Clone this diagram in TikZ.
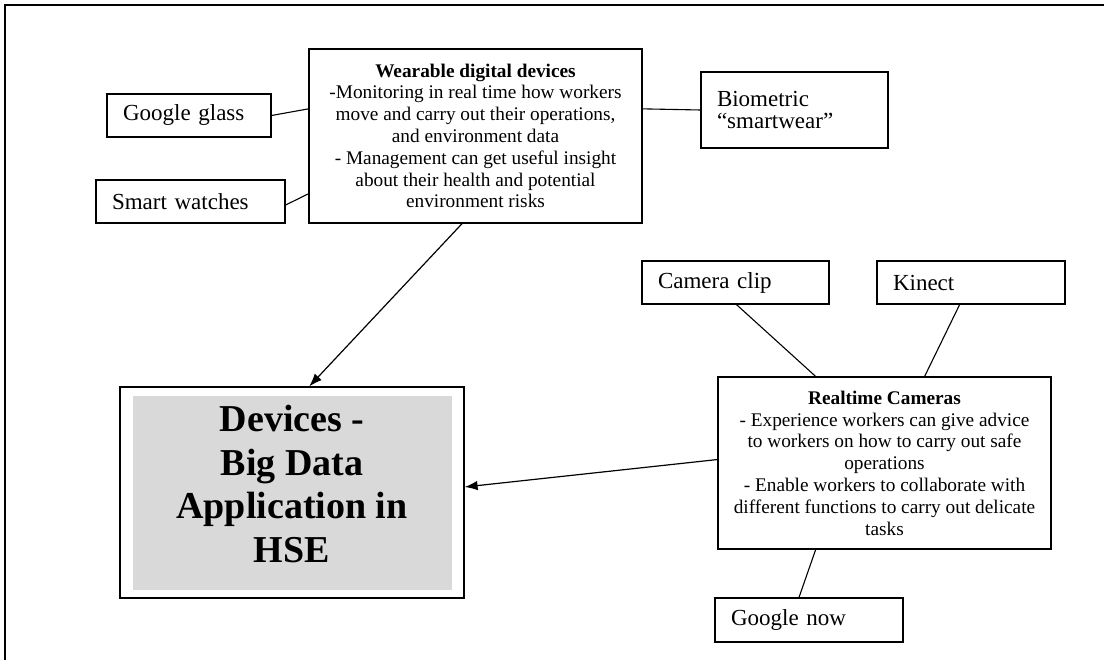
\documentclass[tikz,border=0pt]{standalone}
\usepackage{fontspec}
\setmainfont{Liberation Serif}
\usetikzlibrary{arrows.meta,calc}
\begin{document}
\begin{tikzpicture}[x=1pt,y=-1pt,
  box/.style={draw, line width=1.1pt, inner sep=0pt, align=center,
    font=\fontsize{19.3}{21.8}\selectfont},
  sbox/.style={draw, line width=1.1pt, inner xsep=16pt, inner ysep=0pt,
    align=left, font=\fontsize{23}{22.5}\selectfont},
  conn/.style={line width=1.1pt},
  arr/.style={line width=1.2pt, -{Latex[length=13pt,width=9.5pt]}}]
\useasboundingbox (0,0) rectangle (1104,660);
\definecolor{bigfill}{HTML}{D9D9D9}
% outer frame (only top and left visible)
\draw[line width=1.5pt] (5,662) -- (5,5) -- (1106,5);

% nodes
\node[box, minimum width=333, minimum height=174] (ww) at (475.5,136)
  {\textbf{Wearable digital devices}\\
   -Monitoring in real time how workers\\
   move and carry out their operations,\\
   and environment data\\
   - Management can get useful insight\\
   about their health and potential\\
   environment risks};
\node[sbox, text width=132, minimum height=43] (gg) at (189,115.5) {Google glass};
\node[sbox, text width=157, minimum height=43] (sw) at (190.5,201.5) {Smart watches};
\node[sbox, text width=155, minimum height=76] (bio) at (794.5,110) {Biometric\\“smartwear”};
\node[sbox, text width=155, minimum height=43] (cc) at (735.5,282.5) {Camera clip};
\node[sbox, text width=156, minimum height=43] (kn) at (971,282.5) {Kinect};
\node[sbox, text width=156, minimum height=44] (gn) at (809,620) {Google now};
\node[box, minimum width=333, minimum height=172] (rt) at (884.5,463)
  {\textbf{Realtime Cameras}\\
   - Experience workers can give advice\\
   to workers on how to carry out safe\\
   operations\\
   - Enable workers to collaborate with\\
   different functions to carry out delicate\\
   tasks};

% big central box
\fill[bigfill] (133,396) rectangle (452,590);
\node[draw, line width=1.2pt, minimum width=344, minimum height=211, inner sep=0pt] (big) at (292,492.5) {};
\node[align=center, inner sep=0pt, font=\fontsize{38}{43.8}\selectfont\bfseries] (bigtxt) at (292,484)
  {Devices -\\Big Data\\Application in\\HSE};

% connectors
\draw[conn] (gg.east) -- ($(ww.north west)!0.345!(ww.south west)$);
\draw[conn] ($(sw.north east)!0.58!(sw.south east)$) -- ($(ww.north west)!0.83!(ww.south west)$);
\draw[conn] ($(ww.north east)!0.345!(ww.south east)$) -- (bio.west);
\draw[arr] ($(ww.south west)!0.46!(ww.south east)$) -- ($(big.north west)!0.55!(big.north east)$);
\draw[conn] ($(cc.south west)!0.505!(cc.south east)$) -- ($(rt.north west)!0.294!(rt.north east)$);
\draw[conn] ($(kn.south west)!0.44!(kn.south east)$) -- ($(rt.north west)!0.62!(rt.north east)$);
\draw[conn] ($(rt.south west)!0.294!(rt.south east)$) -- ($(gn.north west)!0.447!(gn.north east)$);
\draw[arr] ($(rt.north west)!0.48!(rt.south west)$) -- ($(big.north east)!0.474!(big.south east)$);
\end{tikzpicture}
\end{document}
